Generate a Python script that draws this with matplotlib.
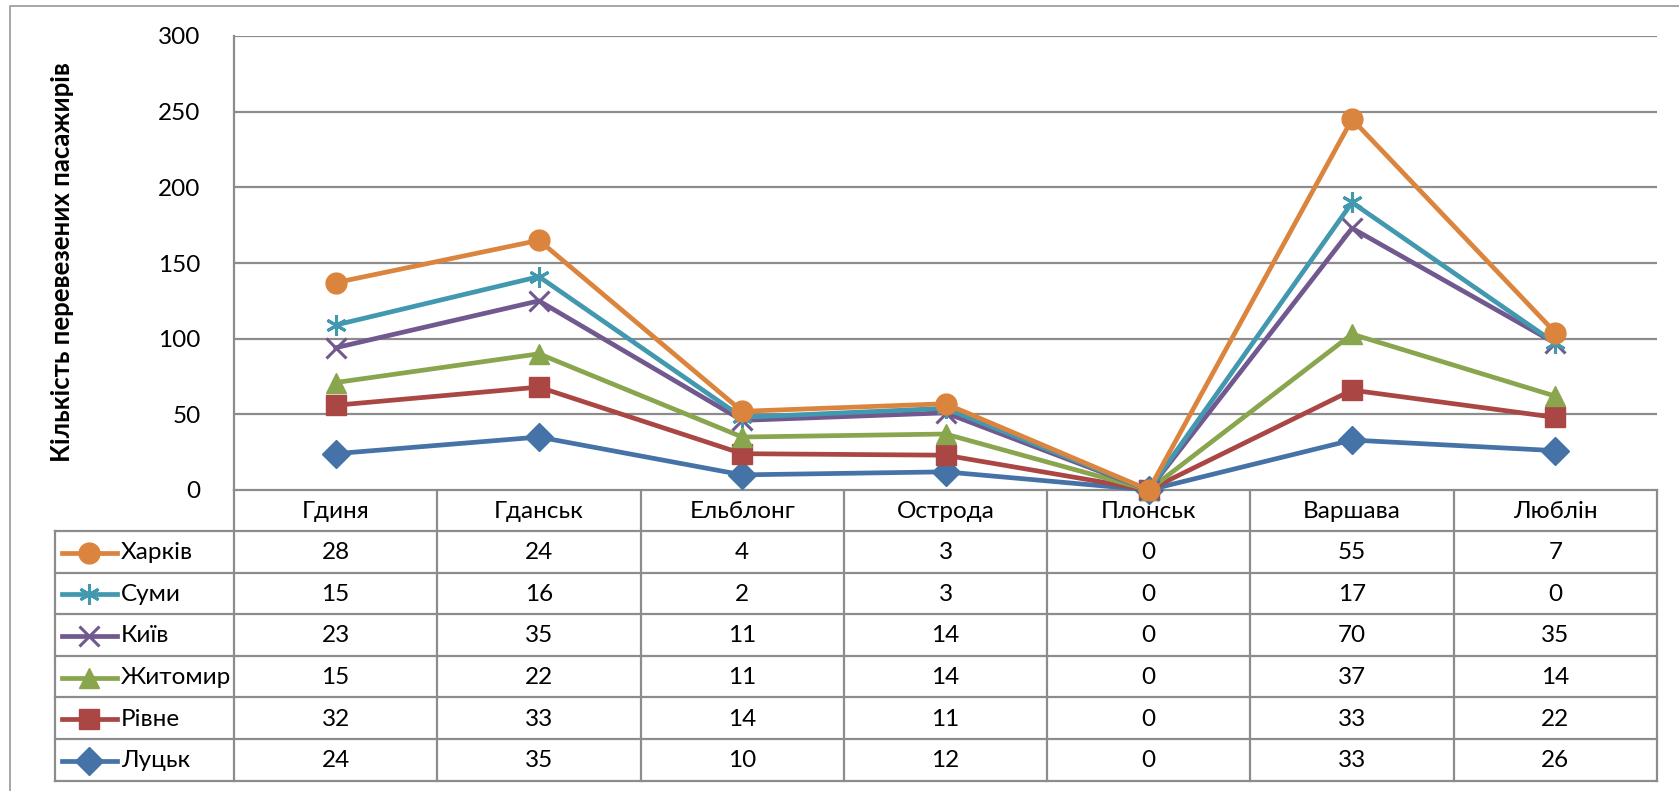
"""Stacked line chart with an Excel-style data table below the plot area."""

import matplotlib

matplotlib.use("Agg")
import matplotlib.pyplot as plt
import numpy as np
from matplotlib.lines import Line2D

plt.rcParams["font.family"] = ["Lato", "Noto Sans", "DejaVu Sans"]

CITIES = ["Гдиня", "Гданськ", "Ельблонг", "Острода", "Плонськ", "Варшава", "Люблін"]

# stacking order, bottom to top
SERIES = ["Луцьк", "Рівне", "Житомир", "Київ", "Суми", "Харків"]
LUTSK = [24, 35, 10, 12, 0, 33, 26]
RIVNE = [32, 33, 14, 11, 0, 33, 22]
ZHYTOMYR = [15, 22, 11, 14, 0, 37, 14]
KYIV = [23, 35, 11, 14, 0, 70, 35]
SUMY = [15, 16, 2, 3, 0, 17, 0]
KHARKIV = [28, 24, 4, 3, 0, 55, 7]

Y_TICKS = [0, 50, 100, 150, 200, 250, 300]
Y_LABEL = "Кількість перевезених пасажирів"

COLORS = ["#4572A7", "#AA4643", "#89A54E", "#71588F", "#4198AF", "#DB843D"]
MARKERS = ["D", "s", "^", "x", (6, 2, 0), "o"]
MSIZES = [14, 14, 15, 14, 15, 15]
FS = 17.5

W, H = 1679, 791
GRID = "#8C8C8C"

fig = plt.figure(figsize=(W / 100, H / 100), dpi=100)

# overlay axes in pixel coordinates for the frame and the table
over = fig.add_axes([0, 0, 1, 1])
over.set_xlim(0, W)
over.set_ylim(H, 0)
over.axis("off")

left, right, top, zero = 234, 1657, 36, 490
ax = fig.add_axes([left / W, (H - zero) / H, (right - left) / W, (zero - top) / H])

values = np.array([LUTSK, RIVNE, ZHYTOMYR, KYIV, SUMY, KHARKIV])
stacked = np.cumsum(values, axis=0)
x = np.arange(len(CITIES))

for i, name in enumerate(SERIES):
    mew = 2.2 if i in (3, 4) else 1
    ax.plot(x, stacked[i], color=COLORS[i], linewidth=3.4, marker=MARKERS[i],
            markersize=MSIZES[i], markeredgewidth=mew, markeredgecolor=COLORS[i],
            clip_on=False, zorder=3 + i)

ax.set_xlim(-0.5, len(CITIES) - 0.5)
ax.set_ylim(0, 300)
ax.set_yticks(Y_TICKS)
ax.set_xticks([])
ax.tick_params(axis="y", length=0, labelsize=FS, pad=24)
ax.yaxis.grid(True, color=GRID, linewidth=1.6)
for side in ("top", "right", "bottom"):
    ax.spines[side].set_visible(False)
ax.spines["left"].set_color(GRID)
ax.spines["left"].set_linewidth(1.6)

over.text(62, 262, Y_LABEL, rotation=90, ha="center", va="center",
          fontsize=18.5, fontweight="bold")

# outer chart frame
over.plot([10, 10, W], [H, 6, 6], color="#A6A6A6", linewidth=1.4)

# data table
leg_left = 55
row_h = 41.6
header_bot = 531
col_w = (right - left) / len(CITIES)
rows_y = [header_bot + k * row_h for k in range(len(SERIES) + 1)]
bottom = rows_y[-1]
lw = 1.6

over.plot([left, left], [zero, bottom], color=GRID, linewidth=lw)
for k in range(1, len(CITIES) + 1):
    cx = left + k * col_w
    over.plot([cx, cx], [zero, bottom], color=GRID, linewidth=lw)
over.plot([left, right], [zero, zero], color=GRID, linewidth=lw)
for y in rows_y:
    over.plot([leg_left, right], [y, y], color=GRID, linewidth=lw)
over.plot([leg_left, leg_left], [header_bot, bottom], color=GRID, linewidth=lw)

for k, city in enumerate(CITIES):
    over.text(left + (k + 0.5) * col_w, (zero + header_bot) / 2 + 1, city,
              ha="center", va="center", fontsize=FS)

for r, idx in enumerate(reversed(range(len(SERIES)))):
    yc = rows_y[r] + row_h / 2 + 1
    mew = 2.2 if idx in (3, 4) else 1
    over.add_line(Line2D([62, 117], [yc, yc], color=COLORS[idx], linewidth=3.4))
    over.add_line(Line2D([89], [yc], marker=MARKERS[idx], markersize=MSIZES[idx],
                         color=COLORS[idx], markeredgewidth=mew,
                         markeredgecolor=COLORS[idx], linestyle="none"))
    over.text(121, yc, SERIES[idx], ha="left", va="center", fontsize=FS)
    for k in range(len(CITIES)):
        over.text(left + (k + 0.5) * col_w, yc, str(values[idx][k]),
                  ha="center", va="center", fontsize=FS)

fig.savefig("out.png", dpi=100)
